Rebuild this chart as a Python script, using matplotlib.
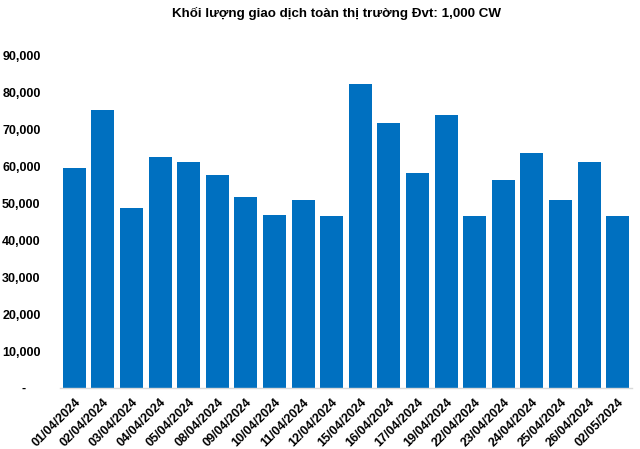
import matplotlib
matplotlib.use("Agg")
import matplotlib.pyplot as plt
from matplotlib.ticker import FuncFormatter

plt.rcParams['font.family'] = ['Liberation Sans', 'DejaVu Sans']

# Dữ liệu
dates = ['01/04/2024', '02/04/2024', '03/04/2024', '04/04/2024', '05/04/2024',
         '08/04/2024', '09/04/2024', '10/04/2024', '11/04/2024', '12/04/2024',
         '15/04/2024', '16/04/2024', '17/04/2024', '19/04/2024', '22/04/2024',
         '23/04/2024', '24/04/2024', '25/04/2024', '26/04/2024', '02/05/2024']
volume = [59600, 75300, 48800, 62600, 61200, 57700, 51800, 46900, 50900, 46600,
          82400, 71800, 58300, 74000, 46600, 56400, 63700, 50900, 61200, 46600]

BAR_COLOR = '#0070C0'

fig = plt.figure(figsize=(6.4, 4.49), dpi=100)
ax = fig.add_axes([60/640, 1 - 388/449, 572/640, 332/449])

x = range(len(dates))
ax.bar(x, volume, width=0.8, color=BAR_COLOR)

ax.set_xlim(-0.5, len(dates) - 0.5)
ax.set_ylim(0, 90000)
ax.set_yticks(range(0, 90001, 10000))

def fmt(v, pos):
    if v == 0:
        return '-    '
    return f'{int(v):,}'

ax.yaxis.set_major_formatter(FuncFormatter(fmt))
ax.set_xticks(list(x))
ax.set_xticklabels(dates, rotation=45, ha='right', rotation_mode='anchor')

for lbl in ax.get_xticklabels() + ax.get_yticklabels():
    lbl.set_fontweight('bold')
    lbl.set_fontsize(9)

ax.tick_params(axis='both', length=0)
ax.tick_params(axis='y', pad=14)
ax.tick_params(axis='x', pad=6)

for s in ['top', 'right', 'left']:
    ax.spines[s].set_visible(False)
ax.spines['bottom'].set_color('#D9D9D9')
ax.spines['bottom'].set_linewidth(1)

fig.text(336/640, 1 - 13/449, 'Khối lượng giao dịch toàn thị trường Đvt: 1,000 CW',
         ha='center', va='center', fontsize=9.6, fontweight='bold')

fig.savefig('out.png', dpi=100)
